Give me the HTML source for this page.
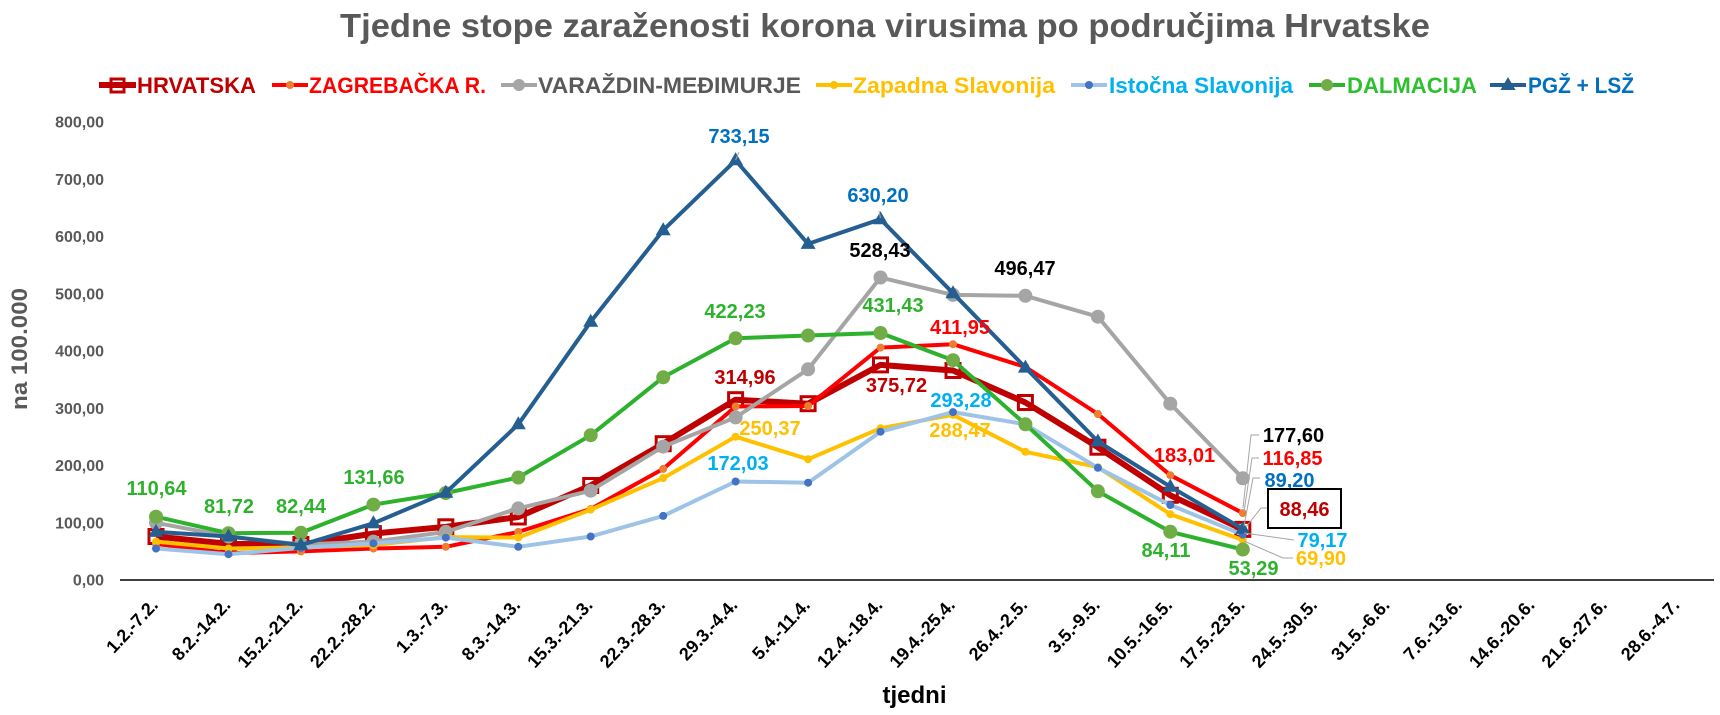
<!DOCTYPE html>
<html>
<head>
<meta charset="utf-8">
<style>
html,body{margin:0;padding:0;background:#fff;}
svg{display:block;}
text{font-family:"Liberation Sans",Arial,sans-serif;font-weight:bold;}
</style>
</head>
<body>
<svg width="1720" height="715" viewBox="0 0 1720 715" xmlns="http://www.w3.org/2000/svg">
<rect x="0" y="0" width="1720" height="715" fill="#fff"/>

<!-- Title -->
<text x="340" y="37" font-size="33" fill="#595959" textLength="1090" lengthAdjust="spacingAndGlyphs">Tjedne stope zaraženosti korona virusima po područjima Hrvatske</text>

<!-- Legend -->
<g>
  <line x1="99" y1="85" x2="136" y2="85" stroke="#C00000" stroke-width="6"/>
  <rect x="111" y="79" width="13" height="13" fill="none" stroke="#C00000" stroke-width="3"/>
  <text x="137" y="93" font-size="22" fill="#C00000" textLength="119" lengthAdjust="spacingAndGlyphs">HRVATSKA</text>

  <line x1="272" y1="85" x2="308" y2="85" stroke="#FF0000" stroke-width="4"/>
  <circle cx="290" cy="85" r="4" fill="#ED7D31"/>
  <text x="309" y="93" font-size="22" fill="#FF0000" textLength="177" lengthAdjust="spacingAndGlyphs">ZAGREBAČKA R.</text>

  <line x1="501" y1="85" x2="537" y2="85" stroke="#A5A5A5" stroke-width="4"/>
  <circle cx="519" cy="85" r="6" fill="#A5A5A5"/>
  <text x="538" y="93" font-size="22" fill="#595959" textLength="263" lengthAdjust="spacingAndGlyphs">VARAŽDIN-MEĐIMURJE</text>

  <line x1="816" y1="85" x2="852" y2="85" stroke="#FFC000" stroke-width="4"/>
  <circle cx="834" cy="85" r="4" fill="#FFC000"/>
  <text x="853" y="93" font-size="22" fill="#FFC000" textLength="202" lengthAdjust="spacingAndGlyphs">Zapadna Slavonija</text>

  <line x1="1071" y1="85" x2="1107" y2="85" stroke="#9DC3E6" stroke-width="4"/>
  <circle cx="1089" cy="85" r="4" fill="#4472C4"/>
  <text x="1109" y="93" font-size="22" fill="#00B0F0" textLength="184" lengthAdjust="spacingAndGlyphs">Istočna Slavonija</text>

  <line x1="1309" y1="85" x2="1345" y2="85" stroke="#2EB22E" stroke-width="4"/>
  <circle cx="1327" cy="85" r="6" fill="#70AD47"/>
  <text x="1347" y="93" font-size="22" fill="#2EC02E" textLength="130" lengthAdjust="spacingAndGlyphs">DALMACIJA</text>

  <line x1="1490" y1="85" x2="1526" y2="85" stroke="#255E91" stroke-width="4"/>
  <polygon points="1508,77 1500.5,90 1515.5,90" fill="#255E91"/>
  <text x="1528" y="93" font-size="22" fill="#0070C0" textLength="106" lengthAdjust="spacingAndGlyphs">PGŽ + LSŽ</text>
</g>

<!-- Y axis labels -->
<g font-size="16" fill="#595959" text-anchor="end">
  <text x="104" y="585.5">0,00</text>
  <text x="104" y="528.3">100,00</text>
  <text x="104" y="471">200,00</text>
  <text x="104" y="413.8">300,00</text>
  <text x="104" y="356.5">400,00</text>
  <text x="104" y="299.3">500,00</text>
  <text x="104" y="242">600,00</text>
  <text x="104" y="184.8">700,00</text>
  <text x="104" y="127.5">800,00</text>
</g>
<text transform="translate(27,349) rotate(-90)" x="0" y="0" font-size="22" fill="#595959" text-anchor="middle" textLength="122" lengthAdjust="spacingAndGlyphs">na 100.000</text>

<!-- X axis line -->
<line x1="120" y1="580" x2="1714" y2="580" stroke="#000" stroke-width="1.5"/>

<!-- X labels -->
<g font-size="18" fill="#000" text-anchor="end">
  <text transform="translate(159,606) rotate(-47)">1.2.-7.2.</text>
  <text transform="translate(231.5,606) rotate(-47)">8.2.-14.2.</text>
  <text transform="translate(303.9,606) rotate(-47)">15.2.-21.2.</text>
  <text transform="translate(376.4,606) rotate(-47)">22.2.-28.2.</text>
  <text transform="translate(448.8,606) rotate(-47)">1.3.-7.3.</text>
  <text transform="translate(521.3,606) rotate(-47)">8.3.-14.3.</text>
  <text transform="translate(593.7,606) rotate(-47)">15.3.-21.3.</text>
  <text transform="translate(666.2,606) rotate(-47)">22.3.-28.3.</text>
  <text transform="translate(738.6,606) rotate(-47)">29.3.-4.4.</text>
  <text transform="translate(811.1,606) rotate(-47)">5.4.-11.4.</text>
  <text transform="translate(883.5,606) rotate(-47)">12.4.-18.4.</text>
  <text transform="translate(956,606) rotate(-47)">19.4.-25.4.</text>
  <text transform="translate(1028.4,606) rotate(-47)">26.4.-2.5.</text>
  <text transform="translate(1100.9,606) rotate(-47)">3.5.-9.5.</text>
  <text transform="translate(1173.3,606) rotate(-47)">10.5.-16.5.</text>
  <text transform="translate(1245.8,606) rotate(-47)">17.5.-23.5.</text>
  <text transform="translate(1318.2,606) rotate(-47)">24.5.-30.5.</text>
  <text transform="translate(1390.7,606) rotate(-47)">31.5.-6.6.</text>
  <text transform="translate(1463.1,606) rotate(-47)">7.6.-13.6.</text>
  <text transform="translate(1535.6,606) rotate(-47)">14.6.-20.6.</text>
  <text transform="translate(1608,606) rotate(-47)">21.6.-27.6.</text>
  <text transform="translate(1680.5,606) rotate(-47)">28.6.-4.7.</text>
</g>
<text x="914.5" y="703" font-size="24" fill="#000" text-anchor="middle">tjedni</text>

<!-- Series: HRVATSKA -->
<polyline fill="none" stroke="#C00000" stroke-width="6" stroke-linejoin="round" points="156,536.5 228.5,543.9 300.9,544.5 373.4,533.6 445.8,526.8 518.3,517 590.7,485.5 663.2,443.7 735.6,399.7 808.1,403.7 880.5,364.9 953,370.5 1025.4,402.5 1097.9,447.2 1170.3,495.3 1242.8,529.4"/>
<g fill="none" stroke="#C00000" stroke-width="3">
  <rect x="149" y="529.5" width="14" height="14"/>
  <rect x="221.5" y="536.9" width="14" height="14"/>
  <rect x="293.9" y="537.5" width="14" height="14"/>
  <rect x="366.4" y="526.6" width="14" height="14"/>
  <rect x="438.8" y="519.8" width="14" height="14"/>
  <rect x="511.3" y="510" width="14" height="14"/>
  <rect x="583.7" y="478.5" width="14" height="14"/>
  <rect x="656.2" y="436.7" width="14" height="14"/>
  <rect x="728.6" y="392.7" width="14" height="14"/>
  <rect x="801.1" y="396.7" width="14" height="14"/>
  <rect x="873.5" y="357.9" width="14" height="14"/>
  <rect x="946" y="363.5" width="14" height="14"/>
  <rect x="1018.4" y="395.5" width="14" height="14"/>
  <rect x="1090.9" y="440.2" width="14" height="14"/>
  <rect x="1163.3" y="488.3" width="14" height="14"/>
  <rect x="1235.8" y="522.4" width="14" height="14"/>
</g>

<!-- ZAGREBAČKA -->
<polyline fill="none" stroke="#FF0000" stroke-width="4" stroke-linejoin="round" points="156,543.9 228.5,553.1 300.9,551.4 373.4,548.5 445.8,546.8 518.3,531.9 590.7,509 663.2,468.9 735.6,406.5 808.1,406 880.5,347.6 953,344.2 1025.4,367 1097.9,414 1170.3,475.2 1242.8,513.1"/>
<g fill="#ED7D31">
  <circle cx="156" cy="543.9" r="4"/><circle cx="228.5" cy="553.1" r="4"/><circle cx="300.9" cy="551.4" r="4"/><circle cx="373.4" cy="548.5" r="4"/>
  <circle cx="445.8" cy="546.8" r="4"/><circle cx="518.3" cy="531.9" r="4"/><circle cx="590.7" cy="509" r="4"/><circle cx="663.2" cy="468.9" r="4"/>
  <circle cx="735.6" cy="406.5" r="4"/><circle cx="808.1" cy="406" r="4"/><circle cx="880.5" cy="347.6" r="4"/><circle cx="953" cy="344.2" r="4"/>
  <circle cx="1025.4" cy="367" r="4"/><circle cx="1097.9" cy="414" r="4"/><circle cx="1170.3" cy="475.2" r="4"/><circle cx="1242.8" cy="513.1" r="4"/>
</g>

<!-- VARAŽDIN -->
<polyline fill="none" stroke="#A5A5A5" stroke-width="4" stroke-linejoin="round" points="156,522.8 228.5,536.5 300.9,544.5 373.4,541.6 445.8,531.9 518.3,508.4 590.7,490.7 663.2,446.6 735.6,417.4 808.1,369.3 880.5,277.5 953,294.9 1025.4,295.8 1097.9,316.7 1170.3,403.7 1242.8,478.3"/>
<g fill="#A5A5A5">
  <circle cx="156" cy="522.8" r="7"/><circle cx="228.5" cy="536.5" r="7"/><circle cx="300.9" cy="544.5" r="7"/><circle cx="373.4" cy="541.6" r="7"/>
  <circle cx="445.8" cy="531.9" r="7"/><circle cx="518.3" cy="508.4" r="7"/><circle cx="590.7" cy="490.7" r="7"/><circle cx="663.2" cy="446.6" r="7"/>
  <circle cx="735.6" cy="417.4" r="7"/><circle cx="808.1" cy="369.3" r="7"/><circle cx="880.5" cy="277.5" r="7"/><circle cx="953" cy="294.9" r="7"/>
  <circle cx="1025.4" cy="295.8" r="7"/><circle cx="1097.9" cy="316.7" r="7"/><circle cx="1170.3" cy="403.7" r="7"/><circle cx="1242.8" cy="478.3" r="7"/>
</g>

<!-- Zapadna Slavonija -->
<polyline fill="none" stroke="#FFC000" stroke-width="4" stroke-linejoin="round" points="156,541.6 228.5,548.5 300.9,547.4 373.4,545.1 445.8,537.1 518.3,537.6 590.7,509.6 663.2,478.1 735.6,436.7 808.1,459.2 880.5,428.3 953,414.8 1025.4,451.8 1097.9,467.2 1170.3,514.2 1242.8,540"/>
<g fill="#FFC000">
  <circle cx="156" cy="541.6" r="4"/><circle cx="228.5" cy="548.5" r="4"/><circle cx="300.9" cy="547.4" r="4"/><circle cx="373.4" cy="545.1" r="4"/>
  <circle cx="445.8" cy="537.1" r="4"/><circle cx="518.3" cy="537.6" r="4"/><circle cx="590.7" cy="509.6" r="4"/><circle cx="663.2" cy="478.1" r="4"/>
  <circle cx="735.6" cy="436.7" r="4"/><circle cx="808.1" cy="459.2" r="4"/><circle cx="880.5" cy="428.3" r="4"/><circle cx="953" cy="414.8" r="4"/>
  <circle cx="1025.4" cy="451.8" r="4"/><circle cx="1097.9" cy="467.2" r="4"/><circle cx="1170.3" cy="514.2" r="4"/><circle cx="1242.8" cy="540" r="4"/>
</g>

<!-- Istočna Slavonija -->
<polyline fill="none" stroke="#9DC3E6" stroke-width="4" stroke-linejoin="round" points="156,548.5 228.5,554.2 300.9,547.9 373.4,543.4 445.8,537.6 518.3,546.8 590.7,536.5 663.2,515.9 735.6,481.5 808.1,482.7 880.5,431.7 953,412.1 1025.4,424.3 1097.9,467.8 1170.3,505 1242.8,534.7"/>
<g fill="#4472C4">
  <circle cx="156" cy="548.5" r="4"/><circle cx="228.5" cy="554.2" r="4"/><circle cx="300.9" cy="547.9" r="4"/><circle cx="373.4" cy="543.4" r="4"/>
  <circle cx="445.8" cy="537.6" r="4"/><circle cx="518.3" cy="546.8" r="4"/><circle cx="590.7" cy="536.5" r="4"/><circle cx="663.2" cy="515.9" r="4"/>
  <circle cx="735.6" cy="481.5" r="4"/><circle cx="808.1" cy="482.7" r="4"/><circle cx="880.5" cy="431.7" r="4"/><circle cx="953" cy="412.1" r="4"/>
  <circle cx="1025.4" cy="424.3" r="4"/><circle cx="1097.9" cy="467.8" r="4"/><circle cx="1170.3" cy="505" r="4"/><circle cx="1242.8" cy="534.7" r="4"/>
</g>

<!-- DALMACIJA -->
<polyline fill="none" stroke="#2EB22E" stroke-width="4" stroke-linejoin="round" points="156,516.7 228.5,533.2 300.9,532.8 373.4,504.6 445.8,493 518.3,477.5 590.7,435.2 663.2,377.3 735.6,338.3 808.1,335.5 880.5,333 953,360.2 1025.4,424.3 1097.9,491.3 1170.3,531.8 1242.8,549.5"/>
<g fill="#70AD47">
  <circle cx="156" cy="516.7" r="7"/><circle cx="228.5" cy="533.2" r="7"/><circle cx="300.9" cy="532.8" r="7"/><circle cx="373.4" cy="504.6" r="7"/>
  <circle cx="445.8" cy="493" r="7"/><circle cx="518.3" cy="477.5" r="7"/><circle cx="590.7" cy="435.2" r="7"/><circle cx="663.2" cy="377.3" r="7"/>
  <circle cx="735.6" cy="338.3" r="7"/><circle cx="808.1" cy="335.5" r="7"/><circle cx="880.5" cy="333" r="7"/><circle cx="953" cy="360.2" r="7"/>
  <circle cx="1025.4" cy="424.3" r="7"/><circle cx="1097.9" cy="491.3" r="7"/><circle cx="1170.3" cy="531.8" r="7"/><circle cx="1242.8" cy="549.5" r="7"/>
</g>

<!-- PGŽ + LSŽ -->
<polyline fill="none" stroke="#255E91" stroke-width="4" stroke-linejoin="round" points="156,531.9 228.5,536.5 300.9,545.1 373.4,523.3 445.8,492.7 518.3,424.3 590.7,321.8 663.2,230.2 735.6,160.3 808.1,243.9 880.5,219.2 953,293.2 1025.4,367.6 1097.9,441.5 1170.3,486.7 1242.8,528.9"/>
<g fill="#255E91">
  <polygon points="156,523.9 148.5,536.9 163.5,536.9"/>
  <polygon points="228.5,528.5 221,541.5 236,541.5"/>
  <polygon points="300.9,537.1 293.4,550.1 308.4,550.1"/>
  <polygon points="373.4,515.3 365.9,528.3 380.9,528.3"/>
  <polygon points="445.8,484.7 438.3,497.7 453.3,497.7"/>
  <polygon points="518.3,416.3 510.8,429.3 525.8,429.3"/>
  <polygon points="590.7,313.8 583.2,326.8 598.2,326.8"/>
  <polygon points="663.2,222.2 655.7,235.2 670.7,235.2"/>
  <polygon points="735.6,152.3 728.1,165.3 743.1,165.3"/>
  <polygon points="808.1,235.9 800.6,248.9 815.6,248.9"/>
  <polygon points="880.5,211.2 873,224.2 888,224.2"/>
  <polygon points="953,285.2 945.5,298.2 960.5,298.2"/>
  <polygon points="1025.4,359.6 1017.9,372.6 1032.9,372.6"/>
  <polygon points="1097.9,433.5 1090.4,446.5 1105.4,446.5"/>
  <polygon points="1170.3,478.7 1162.8,491.7 1177.8,491.7"/>
  <polygon points="1242.8,520.9 1235.3,533.9 1250.3,533.9"/>
</g>

<!-- Leader lines -->
<g fill="none" stroke="#A6A6A6" stroke-width="1">
  <polyline points="739,152 735.6,160"/>
  <polyline points="879,211 880.5,218"/>
  <polyline points="1259,435 1251,435 1243,508"/>
  <polyline points="1259,458 1252,458 1244,512"/>
  <polyline points="1260,478 1253,478 1244,526"/>
  <polyline points="1267,508 1261,508 1246,527"/>
  <polyline points="1294,540 1244,533"/>
  <polyline points="1293,558 1283,558 1244,541"/>
</g>

<!-- Data labels -->
<g font-size="20" text-anchor="middle">
  <text x="739" y="143" fill="#0070C0">733,15</text>
  <text x="878" y="202" fill="#0070C0">630,20</text>
  <text x="1289.5" y="487" fill="#0070C0">89,20</text>

  <text x="880" y="257" fill="#000">528,43</text>
  <text x="1025" y="275" fill="#000">496,47</text>
  <text x="1293.5" y="442" fill="#000">177,60</text>

  <text x="156.5" y="495" fill="#2EB22E">110,64</text>
  <text x="229" y="513" fill="#2EB22E">81,72</text>
  <text x="301" y="513" fill="#2EB22E">82,44</text>
  <text x="374" y="484" fill="#2EB22E">131,66</text>
  <text x="735" y="318" fill="#2EB22E">422,23</text>
  <text x="893" y="312" fill="#2EB22E">431,43</text>
  <text x="1166" y="557" fill="#2EB22E">84,11</text>
  <text x="1253.5" y="575" fill="#2EB22E">53,29</text>

  <text x="745" y="384" fill="#C00000">314,96</text>
  <text x="896.5" y="392" fill="#C00000">375,72</text>

  <text x="960" y="334" fill="#FF0000">411,95</text>
  <text x="1184.5" y="462" fill="#FF0000">183,01</text>
  <text x="1292.5" y="465" fill="#FF0000">116,85</text>

  <text x="770" y="435" fill="#FFC000">250,37</text>
  <text x="960" y="437" fill="#FFC000">288,47</text>
  <text x="1321" y="565" fill="#FFC000">69,90</text>

  <text x="738" y="470" fill="#00B0F0">172,03</text>
  <text x="961" y="407" fill="#00B0F0">293,28</text>
  <text x="1322.5" y="547" fill="#00B0F0">79,17</text>
</g>

<!-- Boxed label -->
<rect x="1268" y="489" width="73" height="39" fill="#fff" stroke="#000" stroke-width="2"/>
<text x="1304.5" y="516" font-size="20" fill="#C00000" text-anchor="middle">88,46</text>

</svg>
</body>
</html>
